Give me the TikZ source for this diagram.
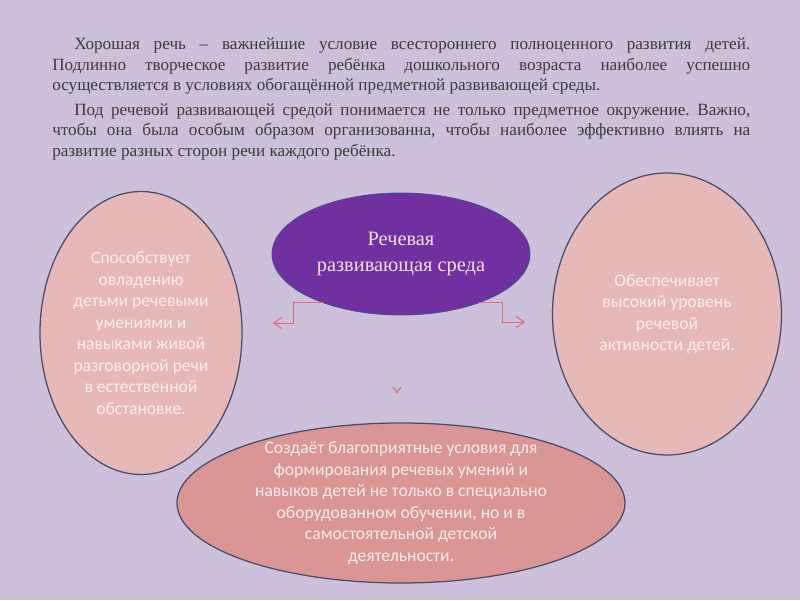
\documentclass[tikz,border=0pt]{standalone}
\usepackage{fontspec}
\setmainfont{Liberation Serif}
\newfontfamily\calib{Carlito}
\usepackage{xcolor}
\usepackage{tikz}
\usetikzlibrary{shapes.geometric, arrows.meta, positioning, calc}
\definecolor{bgpage}{RGB}{204, 192, 218}
\definecolor{purp}{RGB}{112, 48, 160}
\definecolor{purprim}{RGB}{70, 80, 150}
\definecolor{pinklight}{RGB}{230, 185, 184}
\definecolor{pinkdark}{RGB}{217, 150, 148}
\definecolor{rimc}{RGB}{72, 78, 108}
\definecolor{arrc}{RGB}{224, 108, 108}
\definecolor{introc}{RGB}{60, 60, 60}
\definecolor{ovaltxt}{RGB}{252, 236, 236}
\tikzstyle{oval} = [ellipse, draw=rimc, line width=0.9pt, inner sep=-4mm, align=center, text=ovaltxt, font=\calib\fontsize{12.5}{15.3}\selectfont]
\tikzstyle{arrow} = [draw=arrc, line width=0.7pt, -{Straight Barb[length=2mm, width=2.8mm]}]

\begin{document}
\frenchspacing
\begin{tikzpicture}
    \fill[bgpage] (0,0) rectangle (20,15);
    \useasboundingbox (0,0) rectangle (20,15);

    % Intro text
    \node[anchor=north west, inner sep=0pt, text width=17.45cm, align=justify, text=introc, font=\fontsize{12.2}{14.65}\selectfont] (intro) at (1.3,14.06) {
        \hspace*{0.55cm}Хорошая речь – важнейшие условие всестороннего полноценного развития детей.\linebreak
        Подлинно творческое развитие ребёнка дошкольного возраста наиболее успешно\linebreak
        осуществляется в условиях обогащённой предметной развивающей среды.\par
        \vspace{0.09cm}
        \hspace*{0.55cm}Под речевой развивающей средой понимается не только предметное окружение. Важно,\linebreak
        чтобы она была особым образом организованна, чтобы наиболее эффективно влиять на\linebreak
        развитие разных сторон речи каждого ребёнка.\par
    };

    % Central oval
    \node[oval, fill=purp, draw=purprim, line width=0.6pt, minimum width=6.45cm, minimum height=3.05cm,
          text={rgb,255:red,246;green,222;blue,240}, font=\fontsize{14.5}{17.8}\selectfont] (env) at (10.025,8.65) {
        Речевая\\развивающая среда
    };

    % Side ovals
    \node[oval, fill=pinklight, minimum width=5.05cm, minimum height=7.075cm] (left) at (3.525,6.675) {
        Способствует\\овладению\\детьми речевыми\\умениями и\\навыками живой\\разговорной речи\\в естественной\\обстановке.
    };
    \node[oval, fill=pinklight, minimum width=5.725cm, minimum height=7.05cm] (right) at (16.675,7.15) {
        Обеспечивает\\высокий уровень\\речевой\\активности детей.
    };

    % Bottom oval
    \node[oval, fill=pinkdark, minimum width=11.2cm, minimum height=4cm] (bottom) at (10.025,2.425) {
        Создаёт благоприятные условия для\\формирования речевых умений  и\\навыков детей не только в специально\\оборудованном обучении, но и в\\самостоятельной детской\\деятельности.
    };

    % Arrows
    \coordinate (lTip) at (6.825,6.925);
    \coordinate (rTip) at (13.125,6.95);
    \coordinate (dTail) at (9.925,5.36);
    \coordinate (dTip) at (9.925,5.175);
    \draw[arrow] (env.212) -| ([xshift=5mm]lTip) -- (lTip);
    \draw[arrow] (env.-32) -| ([xshift=-5.75mm]rTip) -- (rTip);
    \draw[arrow, -{Straight Barb[length=1.3mm, width=2mm]}, shorten <=1.6mm] (dTail) -- (dTip);
\end{tikzpicture}
\end{document}
